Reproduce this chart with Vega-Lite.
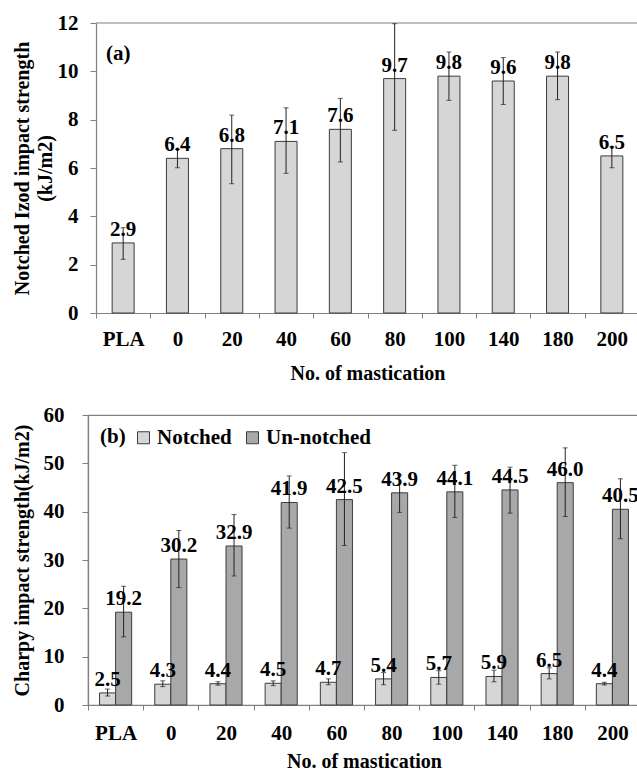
{
  "$schema": "https://vega.github.io/schema/vega-lite/v6.json",
  "padding": {"left": 11, "top": 12, "right": 0, "bottom": 0},
  "background": "white",
  "datasets": {
    "izod": [
      {"m": "PLA", "v": 2.9, "lo": 2.22, "hi": 3.53},
      {"m": "0", "v": 6.4, "lo": 6.01, "hi": 6.77},
      {"m": "20", "v": 6.8, "lo": 5.35, "hi": 8.19},
      {"m": "40", "v": 7.1, "lo": 5.78, "hi": 8.49},
      {"m": "60", "v": 7.6, "lo": 6.25, "hi": 8.88},
      {"m": "80", "v": 9.7, "lo": 7.56, "hi": 11.97},
      {"m": "100", "v": 9.8, "lo": 8.8, "hi": 10.8},
      {"m": "140", "v": 9.6, "lo": 8.63, "hi": 10.57},
      {"m": "180", "v": 9.8, "lo": 8.83, "hi": 10.8},
      {"m": "200", "v": 6.5, "lo": 6.01, "hi": 6.88}
    ],
    "charpy": [
      {"m": "PLA", "t": "Notched", "v": 2.5, "lo": 1.86, "hi": 3.3},
      {"m": "PLA", "t": "Un-notched", "v": 19.2, "lo": 14.1, "hi": 24.57},
      {"m": "0", "t": "Notched", "v": 4.3, "lo": 3.8, "hi": 5.0},
      {"m": "0", "t": "Un-notched", "v": 30.2, "lo": 24.3, "hi": 36.1},
      {"m": "20", "t": "Notched", "v": 4.4, "lo": 4.1, "hi": 4.8},
      {"m": "20", "t": "Un-notched", "v": 32.9, "lo": 26.7, "hi": 39.4},
      {"m": "40", "t": "Notched", "v": 4.5, "lo": 4.0, "hi": 5.0},
      {"m": "40", "t": "Un-notched", "v": 41.9, "lo": 36.6, "hi": 47.4},
      {"m": "60", "t": "Notched", "v": 4.7, "lo": 4.2, "hi": 5.4},
      {"m": "60", "t": "Un-notched", "v": 42.5, "lo": 33.0, "hi": 52.2},
      {"m": "80", "t": "Notched", "v": 5.4, "lo": 4.2, "hi": 6.7},
      {"m": "80", "t": "Un-notched", "v": 43.9, "lo": 39.85, "hi": 47.6},
      {"m": "100", "t": "Notched", "v": 5.7, "lo": 4.3, "hi": 7.1},
      {"m": "100", "t": "Un-notched", "v": 44.1, "lo": 38.8, "hi": 49.6},
      {"m": "140", "t": "Notched", "v": 5.9, "lo": 4.8, "hi": 7.2},
      {"m": "140", "t": "Un-notched", "v": 44.5, "lo": 39.7, "hi": 49.2},
      {"m": "180", "t": "Notched", "v": 6.5, "lo": 5.4, "hi": 7.7},
      {"m": "180", "t": "Un-notched", "v": 46.0, "lo": 39.0, "hi": 53.2},
      {"m": "200", "t": "Notched", "v": 4.4, "lo": 4.15, "hi": 4.7},
      {"m": "200", "t": "Un-notched", "v": 40.5, "lo": 34.4, "hi": 46.8}
    ]
  },
  "config": {
    "font": "Liberation Serif",
    "view": {"stroke": "#808080", "strokeWidth": 1.2},
    "axis": {
      "grid": false,
      "domainColor": "#808080",
      "domainWidth": 1.2,
      "tickColor": "#808080",
      "labelFont": "Liberation Serif",
      "labelFontWeight": "bold",
      "labelFontSize": 21,
      "labelColor": "#000000",
      "titleFont": "Liberation Serif",
      "titleFontWeight": "bold",
      "titleFontSize": 20,
      "titleColor": "#000000"
    },
    "legend": {
      "labelFont": "Liberation Serif",
      "labelFontWeight": "bold",
      "labelFontSize": 21,
      "labelColor": "#000000",
      "titleFont": "Liberation Serif",
      "titleFontWeight": "bold",
      "titleFontSize": 21,
      "titleColor": "#000000"
    }
  },
  "resolve": {"legend": {"color": "independent"}, "scale": {"color": "independent"}},
  "concat": [
    {
      "width": 551,
      "height": 290,
      "view": {"stroke": null},
      "data": {"name": "izod"},
      "encoding": {
        "x": {"field": "m", "type": "nominal", "sort": null,
          "scale": {"paddingInner": 0, "paddingOuter": 0, "range": [8, 551]},
          "axis": {"title": "No. of mastication", "labelAngle": 0, "tickBand": "extent", "tickSize": 5, "labelPadding": 10, "titlePadding": 14}}
      },
      "layer": [
        {
          "mark": {"type": "bar", "size": 22, "fill": "#d6d6d6", "stroke": "#3c3c3c", "strokeWidth": 1},
          "encoding": {
            "y": {"field": "v", "type": "quantitative",
              "scale": {"domain": [0, 12], "nice": false},
              "axis": {"title": ["Notched Izod impact strength", "(kJ/m2)"], "values": [0, 2, 4, 6, 8, 10, 12], "offset": -8, "tickSize": 6, "labelPadding": 12, "titlePadding": 2, "titleLineHeight": 23}}
          }
        },
        {
          "data": {"values": [{"a": "PLA", "b": "200", "top": 12}]},
          "mark": {"type": "rule", "color": "#808080", "strokeWidth": 1.2},
          "encoding": {
            "x": {"field": "a", "type": "nominal", "bandPosition": 0},
            "x2": {"field": "b", "bandPosition": 1},
            "y": {"field": "top", "type": "quantitative"}
          }
        },
        {
          "mark": {"type": "rule", "color": "#222222", "strokeWidth": 1},
          "encoding": {
            "y": {"field": "lo", "type": "quantitative"},
            "y2": {"field": "hi"}
          }
        },
        {
          "mark": {"type": "tick", "size": 5, "thickness": 1, "color": "#222222"},
          "encoding": {"y": {"field": "lo", "type": "quantitative"}}
        },
        {
          "mark": {"type": "tick", "size": 5, "thickness": 1, "color": "#222222"},
          "encoding": {"y": {"field": "hi", "type": "quantitative"}}
        },
        {
          "mark": {"type": "text", "dy": -7, "baseline": "alphabetic", "font": "Liberation Serif", "fontSize": 21, "fontWeight": "bold", "color": "#000000"},
          "encoding": {
            "y": {"field": "v", "type": "quantitative"},
            "text": {"field": "v", "type": "quantitative", "format": ".1f"}
          }
        },
        {
          "data": {"values": [{"label": "(a)", "m": "PLA", "y": 10.7}]},
          "mark": {"type": "text", "dx": -5, "baseline": "middle", "font": "Liberation Serif", "fontSize": 21, "fontWeight": "bold", "color": "#000000"},
          "encoding": {
            "y": {"field": "y", "type": "quantitative"},
            "text": {"field": "label"}
          }
        }
      ]
    },
    {
      "width": 552,
      "height": 290,
      "data": {"name": "charpy"},
      "encoding": {
        "x": {"field": "m", "type": "nominal", "sort": null,
          "scale": {"paddingInner": 0, "paddingOuter": 0},
          "axis": {"title": "No. of mastication", "labelAngle": 0, "tickBand": "extent", "tickSize": 5, "labelPadding": 12, "titlePadding": 8}},
        "xOffset": {"field": "t", "type": "nominal", "sort": ["Notched", "Un-notched"],
          "scale": {"paddingInner": 0, "paddingOuter": 0.72}}
      },
      "layer": [
        {
          "mark": {"type": "bar", "stroke": "#3c3c3c", "strokeWidth": 1},
          "encoding": {
            "y": {"field": "v", "type": "quantitative",
              "scale": {"domain": [0, 60], "nice": false},
              "axis": {"title": "Charpy impact strength(kJ/m2)", "values": [0, 10, 20, 30, 40, 50, 60], "tickSize": 6, "labelPadding": 18, "titlePadding": 11}},
            "color": {"field": "t", "type": "nominal", "sort": ["Notched", "Un-notched"],
              "scale": {"domain": ["Notched", "Un-notched"], "range": ["#d6d6d6", "#a8a8a8"]},
              "legend": {"title": "(b)", "titleOrient": "left", "orient": "top-left", "offset": 12, "direction": "horizontal",
                "symbolType": "square", "symbolSize": 144, "symbolStrokeColor": "#3c3c3c", "symbolStrokeWidth": 1,
                "labelOffset": 3, "columnPadding": 10, "titlePadding": 7}}
          }
        },
        {
          "mark": {"type": "rule", "color": "#222222", "strokeWidth": 1},
          "encoding": {
            "y": {"field": "lo", "type": "quantitative"},
            "y2": {"field": "hi"}
          }
        },
        {
          "mark": {"type": "tick", "size": 5, "thickness": 1, "color": "#222222"},
          "encoding": {"y": {"field": "lo", "type": "quantitative"}}
        },
        {
          "mark": {"type": "tick", "size": 5, "thickness": 1, "color": "#222222"},
          "encoding": {"y": {"field": "hi", "type": "quantitative"}}
        },
        {
          "mark": {"type": "text", "dy": -7, "baseline": "alphabetic", "font": "Liberation Serif", "fontSize": 21, "fontWeight": "bold", "color": "#000000"},
          "encoding": {
            "y": {"field": "v", "type": "quantitative"},
            "text": {"field": "v", "type": "quantitative", "format": ".1f"}
          }
        }
      ]
    }
  ],
  "columns": 1,
  "align": "none",
  "spacing": 20
}
